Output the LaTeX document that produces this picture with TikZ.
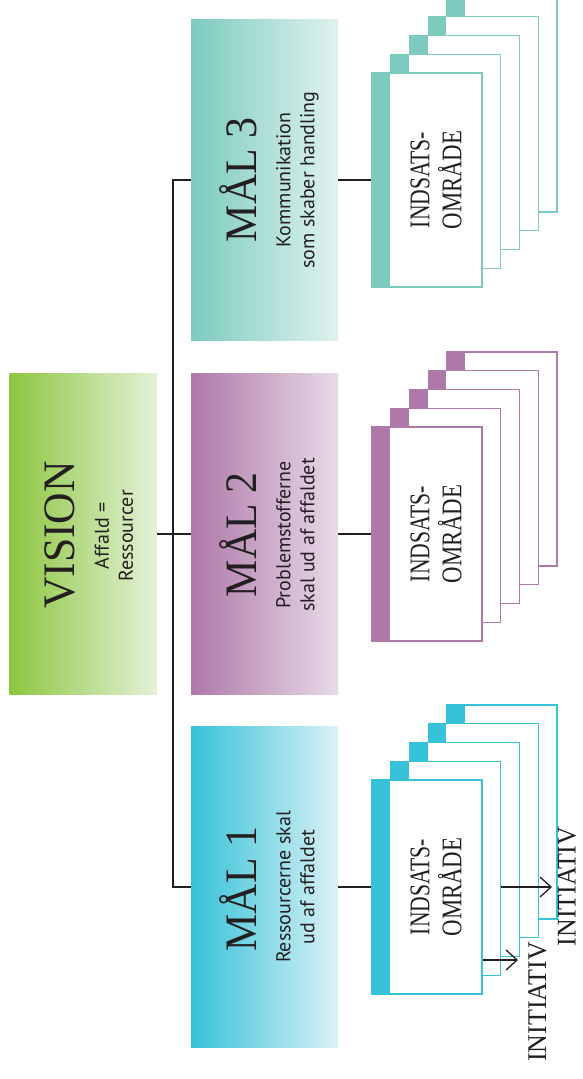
\documentclass[tikz,border=0pt]{standalone}
\usepackage{fontspec}
\usepackage{graphicx}
\setmainfont{Liberation Serif}
\newfontfamily\subfont{PT Sans}
\usetikzlibrary{arrows.meta}

\definecolor{visiongreen}{HTML}{8DC63F}
\definecolor{visionpale}{HTML}{E4F1D8}
\definecolor{maalcyan}{HTML}{36C2D8}
\definecolor{cyanpale}{HTML}{DBF1F6}
\definecolor{maalpurple}{HTML}{AE78A8}
\definecolor{purplepale}{HTML}{E8DAE8}
\definecolor{maalteal}{HTML}{7CCBBE}
\definecolor{tealpale}{HTML}{E0F2EF}
\definecolor{linegray}{HTML}{231F20}

% squeeze text horizontally
\newcommand{\sqz}[2]{\scalebox{#1}[1]{#2}}

\tikzset{
	goalbox/.style 2 args={rectangle, minimum width=147pt, minimum height=321pt, inner sep=0pt, left color=#1, right color=#2},
	goaltitle/.style={rotate=90, anchor=base, inner sep=0pt, text=linegray, font=\fontsize{45}{47}\selectfont},
	goalsub/.style={rotate=90, anchor=north, inner sep=0pt, align=center, text=linegray, font=\subfont\fontsize{20}{24}\selectfont},
	areacard/.style={rectangle, draw=#1, line width=1.3pt, fill=white, minimum width=110pt, minimum height=214pt, inner sep=0pt,
		path picture={\fill[#1] (path picture bounding box.north west) rectangle ([xshift=18pt]path picture bounding box.south west);}},
	areatext/.style={rotate=90, align=center, inner sep=0pt, text=linegray, font=\fontsize{28.5}{32}\selectfont},
	inittext/.style={rotate=90, inner sep=0pt, text=linegray, font=\fontsize{27}{29}\selectfont},
	trunkline/.style={draw=linegray, line width=1.5pt},
	initarrow/.style={draw=linegray, line width=1.3pt, -{Straight Barb[length=11pt, width=20pt]}},
}

% stack of five cards, front card is <name>-0
\newcommand{\cardstack}[4]{%
	\foreach \i in {4,3,2,1,0} {
		\node[areacard=#2] (#1-\i) at ({#3+18.75*\i},{#4-18.75*\i}) {};
	}
	\node[areatext] (#1-txt) at ([xshift=9pt]#1-0.center) {\sqz{0.76}{INDSATS-}\\\sqz{0.8}{OMRÅDE}};
}

\begin{document}
\begin{tikzpicture}[x=1pt, y=-1pt]
	\clip (0,0) rectangle (582,1079);
	
	% VISION
	\node[goalbox={visiongreen}{visionpale}] (vision) at (83,534) {};
	\node[goaltitle] (visiontitle) at (74,535) {\sqz{0.97}{VISION}};
	\node[goalsub] (visionsub) at (94.5,536) {Affald =\\Ressourcer};
	
	% MÅL 1-3
	\node[goalbox={maalteal}{tealpale}] (m3) at (264.5,180) {};
	\node[goaltitle] (m3title) at (256,180) {\sqz{0.93}{MÅL 3}};
	\node[goalsub] (m3sub) at (276,180) {Kommunikation\\som skaber handling};
	
	\node[goalbox={maalpurple}{purplepale}] (m2) at (264.5,534) {};
	\node[goaltitle] (m2title) at (256,535) {\sqz{0.93}{MÅL 2}};
	\node[goalsub] (m2sub) at (276,535) {Problemstofferne\\skal ud af affaldet};
	
	\node[goalbox={maalcyan}{cyanpale}] (m1) at (264.5,887) {};
	\node[goaltitle] (m1title) at (256,889) {\sqz{0.93}{MÅL 1}};
	\node[goalsub] (m1sub) at (276,887) {Ressourcerne skal\\ud af affaldet};
	
	% INDSATSOMRÅDER
	\cardstack{omr3}{maalteal}{427}{180}
	\cardstack{omr2}{maalpurple}{427}{534}
	\cardstack{omr1}{maalcyan}{427}{887}
	
	% DRAW TREE
	\coordinate (trunk) at (173,534);
	\draw[trunkline] (vision.east) -- (m2.west);
	\draw[trunkline] (m3.west) -| (trunk) |- (m1.west);
	\draw[trunkline] (m3.east) -- (omr3-0.west);
	\draw[trunkline] (m2.east) -- (omr2-0.west);
	\draw[trunkline] (m1.east) -- (omr1-0.west);
	
	% INITIATIVER
	\coordinate (tip1) at (518,960);
	\coordinate (tip2) at (552,887);
	\draw[initarrow] (omr1-0.east |- tip1) -- (tip1);
	\draw[initarrow] (omr1-1.east |- tip2) -- (tip2);
	\node[inittext] (init1) at (537.5,1002) {\sqz{0.96}{INITIATIV}};
	\node[inittext] (init2) at (567,886.5) {\sqz{0.96}{INITIATIV}};
\end{tikzpicture}
\end{document}
